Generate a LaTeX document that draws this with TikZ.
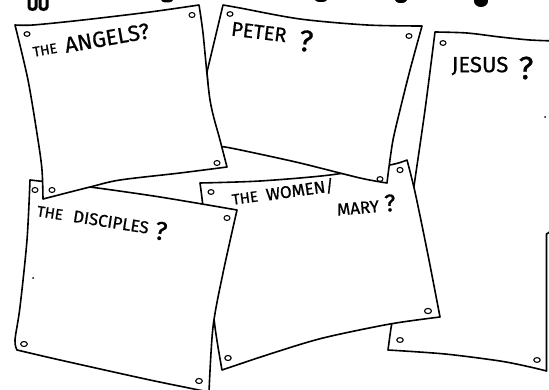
\documentclass[tikz,border=0pt]{standalone}
\usepackage{fontspec}
\setmainfont{Fira Sans}
\newfontfamily\hand{Fira Sans}[FakeBold=0.8]
\begin{document}
\begin{tikzpicture}[x=1pt,y=-1pt,
  sheet/.style={draw=black,fill=white,line width=1.6pt,line join=round},
  hole/.style={draw=black,fill=white,line width=1.1pt},
  lbl/.style={inner sep=0pt,text=black,font=\hand},
  blob/.style={fill=black}]
\useasboundingbox[fill=white] (0,0) rectangle (549,390);
\clip (0,0) rectangle (549,390);
% title fragments (cut off at the top edge)
\draw[line width=3pt,line cap=round] (29,-3) -- (29,7) to[out=-90,in=-90,looseness=1.2] (36,7) -- (36,-3);
\draw[line width=3pt,line cap=round] (40,-3) -- (40,7) to[out=-90,in=-90,looseness=1.2] (47,7) -- (47,-3);
\fill[blob] (167,0) ellipse (6 and 2.5);
\fill[blob] (321,0) ellipse (6 and 2);
\fill[blob] (401,0) ellipse (6 and 3);
\fill[blob] (481,1) ellipse (7 and 6);
% Jesus sheet (back)
\draw[sheet] plot[smooth] coordinates {(435,32) (467,33) (500,37) (530,40) (556,41)}
  -- (556,228) -- (546.5,234) -- (546.5,371)
  -- plot[smooth] coordinates {(546.5,371) (530,367) (500,361) (445,354) (388,350)}
  -- (390,335) -- plot[smooth] coordinates {(391,328) (405,250) (413,193) (425,110) (435,32)} -- cycle;
\draw[hole] (443,43) ellipse (3 and 2.4);
\draw[hole] (400,340) ellipse (3.2 and 2.4);
\draw[hole] (537,360) ellipse (3.2 and 2.4);
\fill (545,117) circle (1);
% Women sheet
\draw[sheet] plot[smooth] coordinates {(200,183) (260,181) (330,175) (390,165) (407,160)}
  -- plot[smooth] coordinates {(407,160) (415,192) (428,255) (440,317)}
  -- plot[smooth] coordinates {(440,317) (390,324) (323,338) (273,353) (222,370)}
  -- plot[smooth] coordinates {(222,370) (215,327) (208,260) (203,207) (200,183)} -- cycle;
\draw[hole] (211,192) ellipse (3 and 2.4);
\draw[hole] (400,170) ellipse (3 and 2.6);
\draw[hole] (428,311) ellipse (3.5 and 2.6);
\draw[hole] (228,358) ellipse (3.2 and 2.5);
% Peter sheet
\draw[sheet] plot[smooth] coordinates {(223,5) (240,8) (300,19) (367,25) (422,26)}
  -- plot[smooth] coordinates {(422,26) (410,70) (400,110) (393,140) (389,167) (387,183)}
  -- plot[smooth] coordinates {(387,183) (360,178) (300,163) (250,152) (225,147) (212,146)}
  -- (207,72) -- cycle;
\draw[hole] (230,14) ellipse (3 and 2.3);
\draw[hole] (409,36) ellipse (3 and 2.4);
\draw[hole] (380,179) ellipse (3 and 2.4);
% Disciples sheet
\draw[sheet] plot[smooth] coordinates {(30,180) (90,187) (160,197) (237,210)}
  -- plot[smooth] coordinates {(237,210) (223,273) (213,327) (209,392)}
  -- plot[smooth] coordinates {(209,392) (150,380) (60,360) (17,350)}
  -- plot[smooth] coordinates {(17,350) (15,340) (20,307) (27,240) (30,180)} -- cycle;
\draw[hole] (35,190) ellipse (3 and 2.5);
\draw[hole] (227,218) ellipse (3 and 2.5);
\draw[hole] (24,344) ellipse (3.3 and 2.5);
\draw[hole] (199,381) ellipse (3.3 and 2.5);
\fill (33,278) circle (1);
% Angels sheet (front)
\draw[sheet] plot[smooth] coordinates {(15,25) (33,25) (83,20) (150,12) (199,5)}
  -- plot[smooth] coordinates {(199,5) (203,33) (210,100) (220,140) (227,167)}
  -- plot[smooth] coordinates {(227,167) (180,173) (120,180) (90,187) (43,199)}
  -- plot[smooth] coordinates {(43,199) (42,170) (38,140) (28,80) (15,25)} -- cycle;
\draw[hole] (27,34) ellipse (3 and 2.3);
\draw[hole] (192,15) ellipse (3 and 2.5);
\draw[hole] (52,190) ellipse (3 and 2.5);
\draw[hole] (217,163) ellipse (3 and 2.5);
% labels
\node[lbl,rotate=10] (angthe) at (45,50) {\fontsize{14}{14}\selectfont THE};
\node[lbl,rotate=10] (angels) at (107,38) {\fontsize{22}{22}\selectfont ANGELS?};
\node[lbl,rotate=-7] (peter) at (259,32) {\fontsize{20}{20}\selectfont PETER};
\node[lbl,rotate=-7] (peterq) at (306,41) {\fontsize{30}{30}\selectfont ?};
\node[lbl] (jesus) at (480,66) {\fontsize{22}{22}\selectfont JESUS};
\node[lbl] (jesusq) at (526,68) {\fontsize{32}{32}\selectfont ?};
\node[lbl,rotate=-9] (discthe) at (50,213) {\fontsize{15}{15}\selectfont THE};
\node[lbl,rotate=-9] (disc) at (111,222) {\fontsize{17}{17}\selectfont DISCIPLES};
\node[lbl,rotate=-9] (discq) at (161,231) {\fontsize{26}{26}\selectfont ?};
\node[lbl,rotate=8] (womthe) at (245,198) {\fontsize{15}{15}\selectfont THE};
\node[lbl,rotate=8] (women) at (300,190) {\fontsize{17}{17}\selectfont WOMEN/};
\node[lbl,rotate=5] (mary) at (358,208) {\fontsize{17}{17}\selectfont MARY};
\node[lbl,rotate=5] (maryq) at (390,203) {\fontsize{24}{24}\selectfont ?};
\end{tikzpicture}
\end{document}
